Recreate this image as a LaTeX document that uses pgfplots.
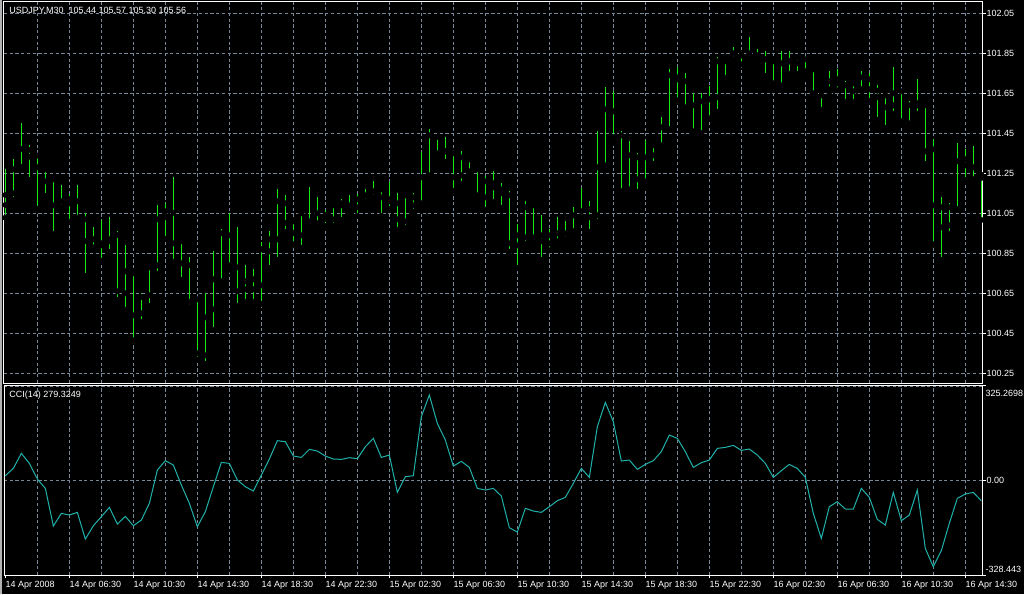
\documentclass[border=0pt]{standalone}
\usepackage{fontspec}
\setmainfont{Liberation Sans}
\usepackage{pgfplots}
\usepackage{pgfplotstable}
\pgfplotsset{compat=1.18}

\definecolor{barc}{RGB}{20,235,20}
\definecolor{ccic}{RGB}{32,178,170}
\definecolor{gridc}{RGB}{119,136,153}
\newcommand\lbl{\fontsize{6.75}{8}\selectfont}

% i = bar index (M30), O H L C prices, cci = CCI(14)
\pgfplotstableread{
i O H L C cci
0 101.092 101.272 101.028 101.142 15.0
1 101.150 101.322 101.117 101.270 40.4
2 101.280 101.500 101.280 101.372 92.2
3 101.367 101.392 101.217 101.333 57.7
4 101.339 101.342 101.073 101.280 3.5
5 101.270 101.283 101.138 101.210 -28.8
6 101.220 101.220 100.948 101.090 -159.1
7 101.080 101.192 101.057 101.110 -115.3
8 101.100 101.145 101.008 101.122 -121.1
9 101.110 101.192 101.008 101.028 -111.8
10 101.020 101.050 100.738 100.912 -204.1
11 100.920 100.982 100.867 100.880 -158.0
12 100.890 101.015 100.813 100.900 -126.8
13 100.910 101.032 100.858 100.920 -94.5
14 100.942 100.962 100.617 100.660 -152.2
15 100.650 100.892 100.568 100.760 -125.7
16 100.750 100.758 100.415 100.540 -158.0
17 100.550 100.653 100.507 100.632 -138.4
18 100.640 100.783 100.588 100.780 -80.7
19 100.790 101.092 100.748 101.020 34.6
20 101.030 101.100 100.923 101.060 66.9
21 101.053 101.232 100.808 100.900 51.9
22 100.910 100.912 100.718 100.800 -17.3
23 100.790 100.832 100.578 100.608 -80.7
24 100.620 100.620 100.318 100.350 -161.4
25 100.340 100.650 100.298 100.530 -109.5
26 100.570 100.862 100.468 100.720 -23.1
27 100.710 100.972 100.688 100.950 61.1
28 100.940 101.052 100.768 100.790 57.7
29 100.780 100.982 100.588 100.660 0.0
30 100.670 100.792 100.608 100.710 -23.1
31 100.720 100.772 100.608 100.670 -38.0
32 100.690 100.905 100.598 100.870 17.3
33 100.860 100.962 100.778 100.920 72.6
34 100.920 101.172 100.818 101.110 136.1
35 101.100 101.142 100.958 101.002 132.6
36 101.010 101.022 100.895 100.952 83.0
37 100.940 101.052 100.878 101.050 78.4
38 100.988 101.182 100.988 101.010 106.1
39 101.000 101.132 100.998 101.050 100.3
40 101.042 101.067 100.987 101.022 83.0
41 101.020 101.092 100.988 101.090 72.6
42 101.100 101.122 101.018 101.090 71.5
43 101.080 101.142 101.058 101.090 77.3
44 101.080 101.145 101.038 101.120 73.8
45 101.110 101.172 101.098 101.140 115.3
46 101.130 101.212 101.118 101.160 144.1
47 101.170 101.182 101.038 101.130 78.4
48 101.120 101.205 101.072 101.110 86.5
49 101.100 101.152 100.968 101.020 -42.7
50 101.010 101.152 100.978 101.140 11.5
51 101.130 101.152 101.058 101.090 15.0
52 101.100 101.355 101.075 101.230 219.1
53 101.240 101.472 101.228 101.440 294.0
54 101.433 101.442 101.338 101.350 196.0
55 101.360 101.432 101.308 101.360 138.4
56 101.350 101.362 101.163 101.230 48.4
57 101.240 101.362 101.198 101.330 64.6
58 101.320 101.332 101.250 101.260 43.8
59 101.270 101.272 101.118 101.140 -28.8
60 101.130 101.235 101.068 101.210 -34.6
61 101.200 101.262 101.108 101.180 -28.8
62 101.170 101.202 101.078 101.150 -55.3
63 101.140 101.162 100.858 100.900 -164.9
64 100.890 100.998 100.778 100.940 -179.9
65 100.930 101.112 100.898 101.080 -98.0
66 101.090 101.092 100.908 100.930 -107.2
67 100.940 101.042 100.818 100.910 -111.8
68 100.900 100.972 100.865 100.940 -92.2
69 100.950 101.032 100.898 100.910 -71.5
70 100.920 101.012 100.898 100.950 -60.0
71 100.960 101.082 100.958 101.040 -11.5
72 101.030 101.175 101.018 101.060 40.4
73 101.070 101.112 100.958 101.030 9.2
74 101.040 101.462 101.008 101.280 184.5
75 101.290 101.682 101.278 101.570 268.6
76 101.560 101.662 101.403 101.430 201.8
77 101.440 101.462 101.148 101.160 65.7
78 101.170 101.412 101.168 101.340 69.2
79 101.330 101.352 101.158 101.220 36.9
80 101.210 101.417 101.188 101.330 54.2
81 101.340 101.402 101.298 101.390 66.9
82 101.390 101.532 101.378 101.480 98.0
83 101.470 101.772 101.470 101.740 155.7
84 101.730 101.782 101.615 101.720 144.1
85 101.710 101.752 101.558 101.580 98.0
86 101.590 101.652 101.438 101.460 43.8
87 101.450 101.652 101.450 101.610 60.0
88 101.620 101.685 101.525 101.620 69.2
89 101.630 101.832 101.558 101.810 109.5
90 101.810 101.832 101.728 101.820 113.0
91 101.820 101.882 101.818 101.850 119.9
92 101.840 101.855 101.795 101.840 102.6
93 101.850 101.932 101.828 101.830 107.2
94 101.840 101.872 101.818 101.830 86.5
95 101.820 101.862 101.738 101.820 57.7
96 101.810 101.822 101.675 101.700 9.2
97 101.690 101.862 101.678 101.800 32.3
98 101.810 101.862 101.748 101.810 54.2
99 101.830 101.842 101.748 101.800 40.4
100 101.820 101.835 101.735 101.760 9.2
101 101.770 101.782 101.628 101.650 -115.3
102 101.640 101.672 101.568 101.660 -201.8
103 101.670 101.762 101.658 101.710 -92.2
104 101.720 101.772 101.665 101.700 -74.9
105 101.690 101.712 101.608 101.690 -100.3
106 101.700 101.702 101.608 101.660 -100.3
107 101.670 101.762 101.662 101.730 -28.8
108 101.720 101.752 101.612 101.670 -60.0
109 101.663 101.692 101.518 101.630 -136.1
110 101.640 101.642 101.478 101.580 -155.7
111 101.590 101.782 101.548 101.650 -42.7
112 101.660 101.668 101.498 101.510 -140.7
113 101.500 101.612 101.488 101.590 -121.1
114 101.590 101.722 101.548 101.600 -34.6
115 101.590 101.592 101.298 101.360 -236.4
116 101.370 101.422 100.895 101.090 -299.8
117 101.080 101.132 100.818 100.980 -244.4
118 100.990 101.102 100.948 101.080 -149.9
119 101.070 101.402 101.070 101.310 -63.4
120 101.320 101.372 101.218 101.290 -48.4
121 101.280 101.385 101.218 101.220 -42.7
122 101.243 101.248 101.017 101.227 -71.5
}\quotes

\pgfplotsset{mtpane/.style={
  scale only axis, width=734pt,
  xmin=-0.17, xmax=122.17,
  axis background/.style={fill=black},
  axis line style={white, line width=0.75pt},
  xtick={4,8,...,120}, xticklabels={}, xtick style={draw=none},
  xtick pos=bottom,
  grid=major,
  major grid style={draw=gridc, line width=0.6pt, dash pattern=on 2.4pt off 1.9pt},
  ytick pos=right, yticklabel pos=right,
  tick align=outside, major tick length=2.25pt,
  ytick style={draw=white, line width=0.75pt},
  yticklabel style={font=\lbl, text=white, anchor=west, inner sep=0.5pt},
}}

\begin{document}
\begin{tikzpicture}
\useasboundingbox (0,0) rectangle (768pt,445.5pt);
\fill[black] (0,0) rectangle (768pt,445.5pt);
\draw[gray!60, line width=1.2pt] (0.6pt,0) -- (0.6pt,445.5pt);

% price pane
\begin{axis}[mtpane, name=top, at={(3pt,158.25pt)}, anchor=south west,
  height=285.75pt, ymin=100.2017, ymax=102.1067,
  ytick={100.25,100.45,100.65,100.85,101.05,101.25,101.45,101.65,101.85,102.05},
  yticklabels={100.25,100.45,100.65,100.85,101.05,101.25,101.45,101.65,101.85,102.05}]
  % high-low
  \addplot[only marks, mark=none, error bars/.cd, y dir=plus, y explicit,
    error mark=none, error bar style={draw=barc, line width=0.75pt}]
    table[x=i, y=L, y error plus expr=\thisrow{H}-\thisrow{L}] {\quotes};
  % open
  \addplot[only marks, mark=none, error bars/.cd, x dir=minus, x fixed=0.3,
    error mark=none, error bar style={draw=barc, line width=0.75pt}]
    table[x=i, y=O] {\quotes};
  % close
  \addplot[only marks, mark=none, error bars/.cd, x dir=plus, x fixed=0.3,
    error mark=none, error bar style={draw=barc, line width=0.75pt}]
    table[x=i, y=C] {\quotes};
\end{axis}

% CCI pane
\begin{axis}[mtpane, name=bot, at={(3pt,14.25pt)}, anchor=south west,
  height=141.75pt, ymin=-328.443, ymax=325.2698,
  ytick={-328.443,0,325.2698}, yticklabels={,0.00,},
  extra x ticks={0,8,...,120},
  extra x tick labels={14 Apr 2008,14 Apr 06:30,14 Apr 10:30,14 Apr 14:30,14 Apr 18:30,14 Apr 22:30,15 Apr 02:30,15 Apr 06:30,15 Apr 10:30,15 Apr 14:30,15 Apr 18:30,15 Apr 22:30,16 Apr 02:30,16 Apr 06:30,16 Apr 10:30,16 Apr 14:30},
  extra x tick style={grid=none, xtick style={draw=white, line width=0.75pt},
    xticklabel style={font=\lbl, text=white, anchor=north west, inner xsep=0pt, inner ysep=2.4pt}}]
  \addplot[ccic, line width=0.75pt] table[x=i, y=cci] {\quotes};
\end{axis}

\node[font=\lbl, text=white, anchor=west, inner sep=0pt]
  at ([xshift=3.75pt, yshift=-6.75pt]top.north west) {USDJPY,M30\ \ 105.44 105.57 105.30 105.56};
\node[font=\lbl, text=white, anchor=west, inner sep=0pt]
  at ([xshift=3.75pt, yshift=-7pt]bot.north west) {CCI(14) 279.3249};
\node[font=\lbl, text=white, anchor=west, inner sep=0pt]
  at ([xshift=2pt, yshift=-5.25pt]bot.north east) {325.2698};
\node[font=\lbl, text=white, anchor=west, inner sep=0pt]
  at ([xshift=2pt, yshift=4.5pt]bot.south east) {-328.443};
\end{tikzpicture}
\end{document}
